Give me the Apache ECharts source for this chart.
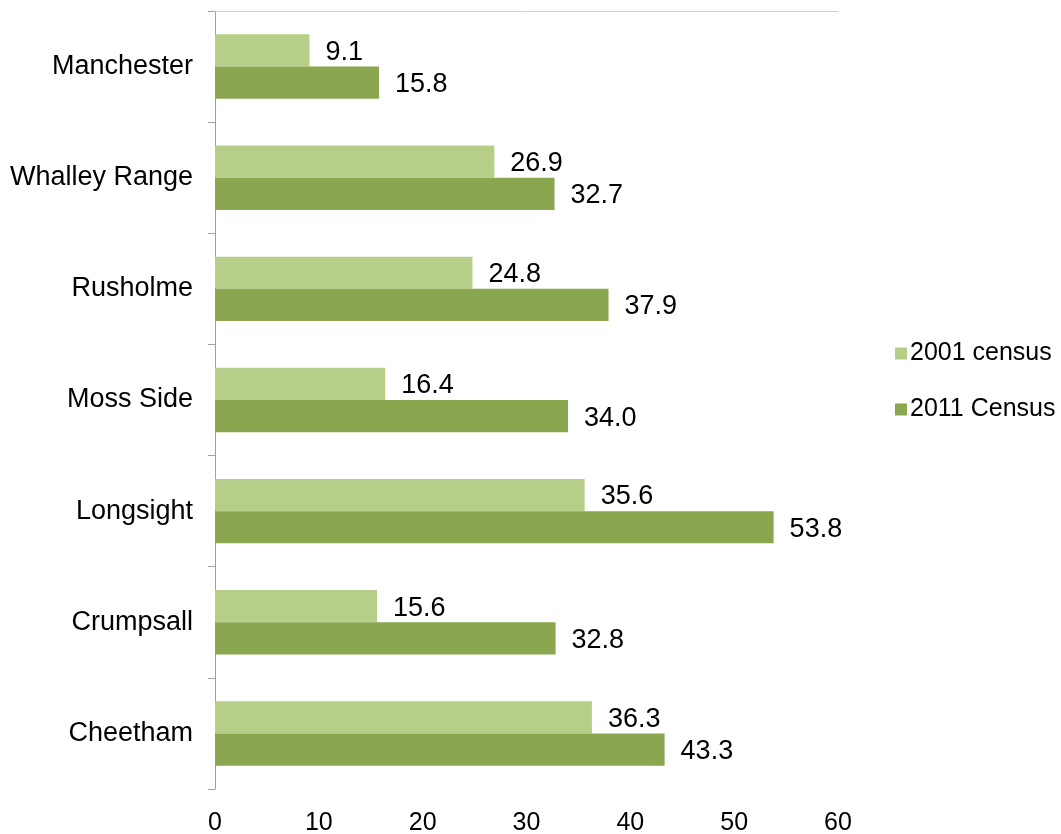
<!DOCTYPE html>
<html>
<head>
<meta charset="utf-8">
<script src="https://cdn.jsdelivr.net/npm/echarts@6/dist/echarts.min.js"></script>
<style>html,body{margin:0;padding:0;background:#fff}#c{width:1061px;height:834px}</style>
</head>
<body>
<div id="c"></div>
<script>
const categories = ['Manchester', 'Whalley Range', 'Rusholme', 'Moss Side', 'Longsight', 'Crumpsall', 'Cheetham'];
const census2001 = [9.1, 26.9, 24.8, 16.4, 35.6, 15.6, 36.3];
const census2011 = [15.8, 32.7, 37.9, 34.0, 53.8, 32.8, 43.3];
const seriesNames = ['2001 census', '2011 Census'];
const xTicks = [0, 10, 20, 30, 40, 50, 60];

const FONT = '"Liberation Sans", Arial, sans-serif';
const chart = echarts.init(document.getElementById('c'), null, {renderer: 'canvas'});
const labelStyle = {
  show: true, position: 'right', distance: 16, color: '#000',
  fontFamily: FONT, fontSize: 27, offset: [0, 2],
  formatter: p => p.value.toFixed(1)
};
chart.setOption({
  animation: false,
  backgroundColor: '#fff',
  textStyle: {fontFamily: FONT},
  grid: {left: 215, right: 223, top: 11, bottom: 45, containLabel: false, outerBoundsMode: 'none'},
  legend: {
    orient: 'vertical', left: 890, top: 336,
    itemWidth: 12, itemHeight: 12, itemGap: 31,
    icon: 'rect',
    textStyle: {fontFamily: FONT, fontSize: 25, color: '#000', padding: [0, 0, 0, -2]},
    data: seriesNames
  },
  xAxis: [{
    type: 'value', min: xTicks[0], max: xTicks[xTicks.length - 1], interval: 10,
    position: 'bottom',
    axisLine: {show: false}, axisTick: {show: false},
    splitLine: {show: false},
    axisLabel: {color: '#000', fontFamily: FONT, fontSize: 25, margin: 22}
  }, {
    type: 'value', min: xTicks[0], max: xTicks[xTicks.length - 1], interval: 10,
    position: 'top',
    axisLine: {show: true, onZero: false, lineStyle: {color: '#D0D0D0', width: 1}},
    axisTick: {show: false}, axisLabel: {show: false}, splitLine: {show: false}
  }],
  yAxis: {
    type: 'category', data: categories, inverse: true,
    axisLine: {show: true, lineStyle: {color: '#A0A0A0', width: 1}},
    axisTick: {show: true, length: 7, lineStyle: {color: '#A0A0A0'}},
    axisLabel: {color: '#000', fontFamily: FONT, fontSize: 27, margin: 22}
  },
  series: [{
    name: seriesNames[0], type: 'bar', data: census2001,
    itemStyle: {color: '#B7CE89'},
    barGap: '0%', barCategoryGap: '42%',
    label: labelStyle
  }, {
    name: seriesNames[1], type: 'bar', data: census2011,
    itemStyle: {color: '#8AA74F'},
    barGap: '0%', barCategoryGap: '42%',
    label: labelStyle
  }]
});
</script>
</body>
</html>
